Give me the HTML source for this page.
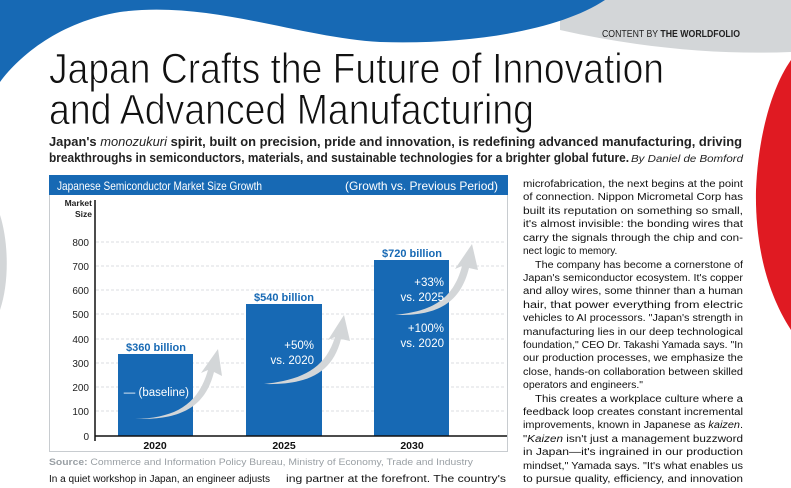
<!DOCTYPE html>
<html><head><meta charset="utf-8"><style>
html,body{margin:0;padding:0;background:#fff;}
svg{display:block;font-family:"Liberation Sans",sans-serif;}
</style></head><body>
<svg width="791" height="488" viewBox="0 0 791 488" xmlns="http://www.w3.org/2000/svg">
<path d="M560,0 L791,0 L791,52 C720,55 640,48 560,30 Z" fill="#d3d6d8"/>
<path d="M0,0 L605,0 C560,30 470,45 380,42 C300,38 210,0 120,12 C60,22 20,55 0,82 Z" fill="#1769b4"/>
<path d="M791,60 C770,90 758,140 756,190 C755,240 765,290 791,330 Z" fill="#e01a22"/>
<path d="M0,215 C8,240 10,280 0,310 Z" fill="#d3d6d8"/>
<text x="740" y="37" font-size="10" text-anchor="end" fill="#222" textLength="138" lengthAdjust="spacingAndGlyphs">CONTENT BY <tspan font-weight="bold">THE WORLDFOLIO</tspan></text>
<g font-size="43" fill="#111" stroke="#fff" stroke-width="0.9">
<text x="49" y="83" textLength="615" lengthAdjust="spacingAndGlyphs">Japan Crafts the Future of Innovation</text>
<text x="49" y="124" textLength="485" lengthAdjust="spacingAndGlyphs">and Advanced Manufacturing</text>
</g>
<text x="49" y="146" font-size="13" font-weight="bold" fill="#222" textLength="693" lengthAdjust="spacingAndGlyphs">Japan's <tspan font-style="italic" font-weight="normal">monozukuri</tspan> spirit, built on precision, pride and innovation, is redefining advanced manufacturing, driving</text>
<text x="49" y="162" font-size="13" font-weight="bold" fill="#222" textLength="580" lengthAdjust="spacingAndGlyphs">breakthroughs in semiconductors, materials, and sustainable technologies for a brighter global future.</text>
<text x="743" y="162" font-size="10" font-style="italic" fill="#222" text-anchor="end" textLength="112" lengthAdjust="spacingAndGlyphs">By Daniel de Bomford</text>
<rect x="49.5" y="175.5" width="458" height="276" fill="#fff" stroke="#c8ccd0"/>
<rect x="49" y="175" width="459" height="20" fill="#1769b4"/>
<text x="57" y="190" font-size="12" fill="#fff" textLength="205" lengthAdjust="spacingAndGlyphs">Japanese Semiconductor Market Size Growth</text>
<text x="345" y="190" font-size="12" fill="#fff" textLength="153" lengthAdjust="spacingAndGlyphs">(Growth vs. Previous Period)</text>
<text x="92" y="206" font-size="8.5" font-weight="bold" fill="#222" text-anchor="end">Market</text>
<text x="92" y="217" font-size="8.5" font-weight="bold" fill="#222" text-anchor="end">Size</text>
<g stroke="#cfd3d6" stroke-dasharray="3,2" stroke-width="0.8">
<line x1="96" y1="242" x2="506" y2="242"/><line x1="96" y1="266" x2="506" y2="266"/>
<line x1="96" y1="290" x2="506" y2="290"/><line x1="96" y1="314" x2="506" y2="314"/>
<line x1="96" y1="339" x2="506" y2="339"/><line x1="96" y1="363" x2="506" y2="363"/>
<line x1="96" y1="387" x2="506" y2="387"/><line x1="96" y1="411" x2="506" y2="411"/>
</g>
<g font-size="10" fill="#222" text-anchor="end">
<text x="89" y="246">800</text><text x="89" y="270">700</text><text x="89" y="294">600</text>
<text x="89" y="318">500</text><text x="89" y="343">400</text><text x="89" y="367">300</text>
<text x="89" y="391">200</text><text x="89" y="415">100</text><text x="89" y="440">0</text>
</g>
<rect x="118" y="354" width="75" height="82" fill="#1769b4"/>
<rect x="246" y="304" width="76" height="132" fill="#1769b4"/>
<rect x="374" y="260" width="75" height="176" fill="#1769b4"/>
<line x1="95" y1="200" x2="95" y2="441" stroke="#111" stroke-width="1.5"/>
<line x1="95" y1="436" x2="507" y2="436" stroke="#111" stroke-width="1.5"/>
<g font-size="10.5" font-weight="bold" fill="#111" text-anchor="middle">
<text x="155" y="449">2020</text><text x="284" y="449">2025</text><text x="412" y="449">2030</text>
</g>
<g fill="#d3d6d8">
<path d="M135,419 C175,418 198,405 208,370 L201,373 L218,349 L222,376 L214,372 C205,408 180,420 135,419 Z"/>
<path d="M264,384 C300,380 325,370 335,337 L328,340 L344,315 L350,341 L341,339 C332,375 305,385 264,384 Z"/>
<path d="M395,315 C432,311 453,300 462,266 L455,269 L472,244 L478,270 L469,268 C460,305 435,316 395,315 Z"/>
</g>
<g font-size="11.5" fill="#fff" text-anchor="end">
<text x="189" y="396">— (baseline)</text>
<text x="314" y="349">+50%</text><text x="314" y="364">vs. 2020</text>
<text x="444" y="286">+33%</text><text x="444" y="301">vs. 2025</text>
<text x="444" y="332">+100%</text><text x="444" y="347">vs. 2020</text>
</g>
<g font-size="11" font-weight="bold" fill="#1769b4" text-anchor="middle">
<text x="156" y="351">$360 billion</text><text x="284" y="301">$540 billion</text><text x="412" y="257">$720 billion</text>
</g>
<text x="49" y="465" font-size="9.5" fill="#9aa0a5" textLength="424" lengthAdjust="spacingAndGlyphs"><tspan font-weight="bold">Source:</tspan> Commerce and Information Policy Bureau, Ministry of Economy, Trade and Industry</text>
<text x="49" y="482" font-size="10" fill="#111" textLength="221" lengthAdjust="spacingAndGlyphs">In a quiet workshop in Japan, an engineer adjusts</text>
<text x="286" y="482" font-size="10" fill="#111" textLength="220" lengthAdjust="spacingAndGlyphs">ing partner at the forefront. The country's</text>
<g font-size="10" fill="#111">
<text x="523" y="187" textLength="220" lengthAdjust="spacingAndGlyphs">microfabrication, the next begins at the point</text>
<text x="523" y="200" textLength="220" lengthAdjust="spacingAndGlyphs">of connection. Nippon Micrometal Corp has</text>
<text x="523" y="214" textLength="220" lengthAdjust="spacingAndGlyphs">built its reputation on something so small,</text>
<text x="523" y="227" textLength="220" lengthAdjust="spacingAndGlyphs">it's almost invisible: the bonding wires that</text>
<text x="523" y="241" textLength="220" lengthAdjust="spacingAndGlyphs">carry the signals through the chip and con-</text>
<text x="523" y="254">nect logic to memory.</text>
<text x="535" y="268" textLength="208" lengthAdjust="spacingAndGlyphs">The company has become a cornerstone of</text>
<text x="523" y="281" textLength="220" lengthAdjust="spacingAndGlyphs">Japan's semiconductor ecosystem. It's copper</text>
<text x="523" y="294" textLength="220" lengthAdjust="spacingAndGlyphs">and alloy wires, some thinner than a human</text>
<text x="523" y="308" textLength="220" lengthAdjust="spacingAndGlyphs">hair, that power everything from electric</text>
<text x="523" y="321" textLength="220" lengthAdjust="spacingAndGlyphs">vehicles to AI processors. "Japan's strength in</text>
<text x="523" y="335" textLength="220" lengthAdjust="spacingAndGlyphs">manufacturing lies in our deep technological</text>
<text x="523" y="348" textLength="220" lengthAdjust="spacingAndGlyphs">foundation," CEO Dr. Takashi Yamada says. "In</text>
<text x="523" y="361" textLength="220" lengthAdjust="spacingAndGlyphs">our production processes, we emphasize the</text>
<text x="523" y="375" textLength="220" lengthAdjust="spacingAndGlyphs">close, hands-on collaboration between skilled</text>
<text x="523" y="388" textLength="120" lengthAdjust="spacingAndGlyphs">operators and engineers."</text>
<text x="535" y="402" textLength="208" lengthAdjust="spacingAndGlyphs">This creates a workplace culture where a</text>
<text x="523" y="415" textLength="220" lengthAdjust="spacingAndGlyphs">feedback loop creates constant incremental</text>
<text x="523" y="428" textLength="220" lengthAdjust="spacingAndGlyphs">improvements, known in Japanese as <tspan font-style="italic">kaizen</tspan>.</text>
<text x="523" y="442" textLength="220" lengthAdjust="spacingAndGlyphs">"<tspan font-style="italic">Kaizen</tspan> isn't just a management buzzword</text>
<text x="523" y="455" textLength="220" lengthAdjust="spacingAndGlyphs">in Japan—it's ingrained in our production</text>
<text x="523" y="469" textLength="220" lengthAdjust="spacingAndGlyphs">mindset," Yamada says. "It's what enables us</text>
<text x="523" y="482" textLength="220" lengthAdjust="spacingAndGlyphs">to pursue quality, efficiency, and innovation</text>
</g>
</svg>
</body></html>
